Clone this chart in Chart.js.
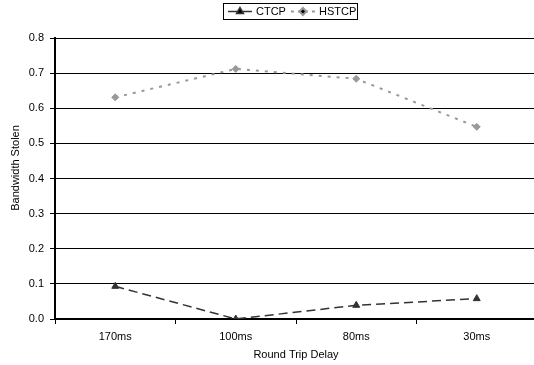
<!DOCTYPE html>
<html>
<head>
<meta charset="utf-8">
<script src="https://cdn.jsdelivr.net/npm/chart.js@4/dist/chart.umd.min.js"></script>
<style>
    html, body { margin: 0; padding: 0; background: #fff; overflow: hidden; }
    #wrap { width: 542px; height: 365px; }
</style>
</head>
<body>
<div id="wrap"><canvas id="bw_chart"></canvas></div>
<script>
    // round trip delays and stolen bandwidth per protocol
    var delays = ["170ms", "100ms", "80ms", "30ms"];
    var ctcp = [0.093, 0.0, 0.039, 0.058];
    var hstcp = [0.631, 0.712, 0.684, 0.547];
    var yTicks = [0.0, 0.1, 0.2, 0.3, 0.4, 0.5, 0.6, 0.7, 0.8];
    var xTitle = 'Round Trip Delay';
    var yTitle = 'Bandwidth Stolen';

    var font = "'Liberation Sans', Arial, sans-serif";

    // boxed legend above the plot and the two axis titles
    var boxLegend = {
        id: 'boxLegend',
        afterDraw: function (chart) {
            var ctx = chart.ctx;
            var x0 = 223, y0 = 3, w = 134, h = 16;
            ctx.save();
            ctx.strokeStyle = '#000';
            ctx.lineWidth = 1;
            ctx.strokeRect(x0 + 0.5, y0 + 0.5, w, h);
            ctx.font = '11px ' + font;
            ctx.textBaseline = 'middle';
            var cy = y0 + h / 2 + 0.5;
            var x = x0 + 5;
            chart.data.datasets.forEach(function (ds, i) {
                ctx.strokeStyle = ds.borderColor;
                ctx.lineWidth = ds.borderWidth;
                ctx.setLineDash(i == 0 ? [] : [3, 4]);
                ctx.beginPath();
                ctx.moveTo(x, cy);
                ctx.lineTo(x + 24, cy);
                ctx.stroke();
                ctx.setLineDash([]);
                Chart.helpers.drawPoint(ctx, {
                    pointStyle: ds.pointStyle,
                    radius: ds.pointRadius,
                    borderWidth: 1
                }, x + 12, cy);
                ctx.fillStyle = '#000';
                ctx.fillText(ds.label, x + 28, cy);
                x += 28 + ctx.measureText(ds.label).width + 5;
            });

            // axis titles
            ctx.fillStyle = '#000';
            ctx.textAlign = 'center';
            ctx.fillText(xTitle, (chart.chartArea.left + 537) / 2, 355);
            ctx.translate(16, 168);
            ctx.rotate(-Math.PI / 2);
            ctx.fillText(yTitle, 0, 0);
            ctx.restore();
        }
    };

    new Chart(document.getElementById("bw_chart").getContext("2d"), {
        type: 'line',
        data: {
            labels: delays,
            datasets: [{
                label: 'CTCP',
                data: ctcp,
                borderColor: '#333',
                backgroundColor: '#333',
                borderWidth: 1.5,
                borderDash: [9, 5],
                pointStyle: 'triangle',
                pointRadius: 4,
                pointBorderWidth: 1,
                tension: 0
            }, {
                label: 'HSTCP',
                data: hstcp,
                borderColor: '#999',
                backgroundColor: '#999',
                borderWidth: 2,
                borderDash: [3, 6],
                pointStyle: 'rectRot',
                pointRadius: 3.5,
                pointBorderWidth: 1,
                tension: 0
            }]
        },
        options: {
            responsive: true,
            maintainAspectRatio: false,
            animation: false,
            layout: { padding: { top: 38, right: 0, left: 0, bottom: 0 } },
            plugins: {
                legend: { display: false },
                tooltip: { enabled: false }
            },
            scales: {
                x: {
                    offset: true,
                    grid: { offset: true, drawOnChartArea: false, color: '#000', tickLength: 5 },
                    border: { color: '#000', width: 2 },
                    ticks: { color: '#000', font: { family: font, size: 11 }, padding: 6 },
                    afterFit: function (scale) { scale.height = 46; }
                },
                y: {
                    min: 0,
                    max: 0.8,
                    afterBuildTicks: function (scale) {
                        scale.ticks = yTicks.map(function (v) { return { value: v }; });
                    },
                    grid: { color: '#000', tickLength: 5 },
                    border: { color: '#000', width: 2 },
                    ticks: {
                        color: '#000',
                        font: { family: font, size: 11 },
                        padding: 6,
                        callback: function (v) { return Number(v).toFixed(1); }
                    },
                    afterFit: function (scale) { scale.width = 55; }
                }
            }
        },
        plugins: [boxLegend]
    });
</script>
</body>
</html>
